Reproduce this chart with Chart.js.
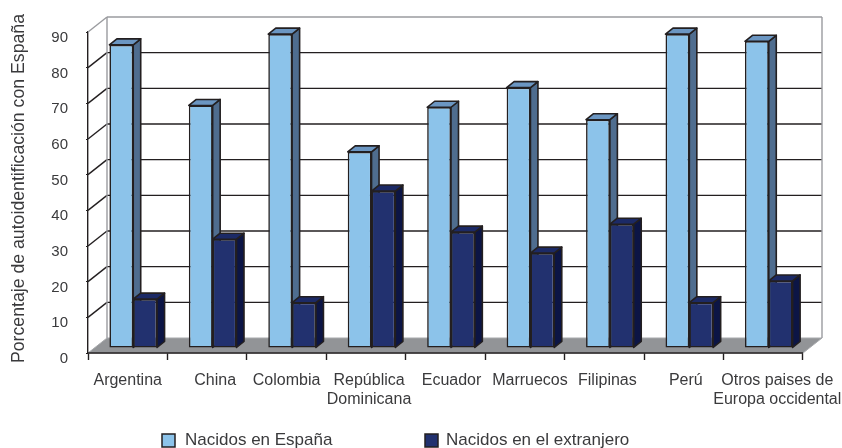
<!DOCTYPE html>
<html>
<head>
<meta charset="utf-8">
<title>Autoidentificación con España</title>
<script src="https://cdn.jsdelivr.net/npm/chart.js@4/dist/chart.umd.min.js"></script>
<style>
  html, body { margin: 0; padding: 0; background: #fff; }
  #wrap { width: 842px; height: 448px; }
</style>
</head>
<body>
<div id="wrap"><canvas id="chart"></canvas></div>
<script>
const categories = [
  "Argentina", "China", "Colombia", ["República", "Dominicana"], "Ecuador",
  "Marruecos", "Filipinas", "Perú", ["Otros paises de", "Europa occidental"],
];
const nacidosEspana = [85, 68, 88, 55, 67.5, 73, 64, 88, 86];
const nacidosExtranjero = [13.7, 30.5, 12.7, 44, 32.5, 26.6, 34.7, 12.7, 18.8];
const yTicks = [0, 10, 20, 30, 40, 50, 60, 70, 80, 90];

const FONT = "'Liberation Sans', Arial, sans-serif";
const TEXT = "#3a3a3c";
const LINE = "#231f20";

// depth of the fake 3D box and of the bars inside it
const WALL = { dx: 19, dy: -15 };
const BAR_SHIFT = { dx: 5.5, dy: -5 };
const BAR_DEPTH = { dx: 7.5, dy: -6 };

const faces = [
  { side: "#4f6d8f", top: "#6b96c2" },
  { side: "#0c1545", top: "#1c2a66" },
];

function poly(ctx, pts, fill, stroke, width) {
  ctx.beginPath();
  pts.forEach((p, i) => (i ? ctx.lineTo(p[0], p[1]) : ctx.moveTo(p[0], p[1])));
  ctx.closePath();
  if (fill) {
    ctx.fillStyle = fill;
    ctx.fill();
  }
  if (stroke) {
    ctx.strokeStyle = stroke;
    ctx.lineWidth = width;
    ctx.stroke();
  }
}

function segment(ctx, x1, y1, x2, y2, color, width) {
  ctx.beginPath();
  ctx.moveTo(x1, y1);
  ctx.lineTo(x2, y2);
  ctx.strokeStyle = color;
  ctx.lineWidth = width;
  ctx.stroke();
}

const boxPlugin = {
  id: "box3d",
  afterLayout(chart) {
    // the category labels are not quite centred in the original
    const nudge = [0, 8, 0, 3, 6, 5, 3, 2, 14];
    chart.scales.x.getLabelItems(chart.chartArea).forEach((item, i) => {
      item.options.translation[0] += nudge[i];
    });
    // y title sits a little above the middle of the axis
    const yScale = chart.scales.y;
    const drawTitle = yScale.drawTitle;
    yScale.drawTitle = function () {
      this.ctx.save();
      this.ctx.translate(0, -4);
      drawTitle.call(this);
      this.ctx.restore();
    };
  },
  beforeDatasetsDraw(chart) {
    const { ctx, chartArea: a, scales } = chart;
    const y = scales.y;
    const base = y.getPixelForValue(0);
    ctx.save();
    // floor, walls and gridlines behind the bars
    poly(ctx, [
      [a.left, base], [a.right, base],
      [a.right + WALL.dx, base + WALL.dy], [a.left + WALL.dx, base + WALL.dy],
    ], "#929497", "#a7a9ac", 1);
    yTicks.forEach((v) => {
      const py = y.getPixelForValue(v);
      const top = v === yTicks[yTicks.length - 1];
      const color = top ? "#9a9b9f" : LINE;
      if (v > 0) {
        segment(ctx, a.left, py, a.left + WALL.dx, py + WALL.dy, color, 1.4);
        segment(ctx, a.left + WALL.dx, py + WALL.dy, a.right + WALL.dx, py + WALL.dy, color, top ? 1.6 : 1.3);
      }
    });
    const topY = y.getPixelForValue(yTicks[yTicks.length - 1]) + WALL.dy;
    segment(ctx, a.left + WALL.dx, topY, a.left + WALL.dx, base + WALL.dy, "#9a9b9f", 1.4);
    segment(ctx, a.right + WALL.dx, topY, a.right + WALL.dx, base + WALL.dy, "#9a9b9f", 1.4);
    segment(ctx, a.left, base, a.right, base, LINE, 1.4);

    // side and top faces first, the library then draws the fronts over them
    ctx.translate(BAR_SHIFT.dx, BAR_SHIFT.dy);
    ctx.lineJoin = "round";
    chart.data.datasets.forEach((ds, i) => {
      const f = faces[i];
      chart.getDatasetMeta(i).data.forEach((bar) => {
        const p = bar.getProps(["x", "y", "base", "width"], true);
        const l = p.x - p.width / 2;
        const r = p.x + p.width / 2;
        poly(ctx, [
          [r, p.y], [r + BAR_DEPTH.dx, p.y + BAR_DEPTH.dy],
          [r + BAR_DEPTH.dx, p.base + BAR_DEPTH.dy], [r, p.base],
        ], f.side, LINE, 1.6);
        poly(ctx, [
          [l, p.y], [l + BAR_DEPTH.dx, p.y + BAR_DEPTH.dy],
          [r + BAR_DEPTH.dx, p.y + BAR_DEPTH.dy], [r, p.y],
        ], f.top, LINE, 1.6);
      });
    });
    ctx.restore();
  },
  beforeDatasetDraw(chart) {
    chart.ctx.save();
    chart.ctx.translate(BAR_SHIFT.dx, BAR_SHIFT.dy);
  },
  afterDatasetDraw(chart) {
    chart.ctx.restore();
  },
  // legend sits off centre with a wide gap, so it is drawn here
  afterDraw(chart) {
    const { ctx } = chart;
    const boxX = [162, 425];
    const textX = [185, 446];
    ctx.save();
    ctx.font = "17px " + FONT;
    ctx.textBaseline = "middle";
    chart.data.datasets.forEach((ds, i) => {
      ctx.fillStyle = ds.backgroundColor;
      ctx.strokeStyle = LINE;
      ctx.lineWidth = 1.5;
      ctx.fillRect(boxX[i], 434, 13, 13);
      ctx.strokeRect(boxX[i], 434, 13, 13);
      ctx.fillStyle = TEXT;
      ctx.fillText(ds.label, textX[i], 440.5);
    });
    ctx.restore();
  },
};

new Chart(document.getElementById("chart"), {
  type: "bar",
  data: {
    labels: categories,
    datasets: [
      {
        label: "Nacidos en España",
        data: nacidosEspana,
        backgroundColor: "#8cc3ea",
        borderColor: LINE,
        borderWidth: 1.6,
        borderSkipped: false,
      },
      {
        label: "Nacidos en el extranjero",
        data: nacidosExtranjero,
        backgroundColor: "#22316f",
        borderColor: LINE,
        borderWidth: 1.6,
        borderSkipped: false,
      },
    ],
  },
  options: {
    responsive: true,
    maintainAspectRatio: false,
    animation: false,
    layout: { padding: { top: 32, right: 39, bottom: 0, left: 0 } },
    datasets: { bar: { categoryPercentage: 0.6, barPercentage: 1 } },
    plugins: {
      legend: { display: false },
      tooltip: { enabled: false },
    },
    scales: {
      x: {
        afterFit: (scale) => { scale.height = 95; },
        border: { display: false },
        grid: {
          drawOnChartArea: false,
          drawTicks: true,
          tickLength: 7,
          tickColor: LINE,
          tickWidth: 1.4,
        },
        ticks: {
          color: TEXT,
          font: { family: FONT, size: 16, lineHeight: 1.2 },
          padding: 11,
          maxRotation: 0,
          autoSkip: false,
        },
      },
      y: {
        min: 0,
        max: 90,
        afterFit: (scale) => { scale.width = 88; },
        afterBuildTicks: (scale) => { scale.ticks = yTicks.map((value) => ({ value })); },
        border: { display: true, color: LINE, width: 1.4 },
        grid: { drawOnChartArea: false, drawTicks: true, tickLength: 2, tickColor: LINE },
        title: {
          display: true,
          text: "Porcentaje de autoidentificación con España",
          color: TEXT,
          font: { family: FONT, size: 17.7 },
          padding: { top: 8, bottom: 0 },
        },
        ticks: {
          color: TEXT,
          font: { family: FONT, size: 15 },
          padding: 18,
          labelOffset: 6,
        },
      },
    },
  },
  plugins: [boxPlugin],
});
</script>
</body>
</html>
